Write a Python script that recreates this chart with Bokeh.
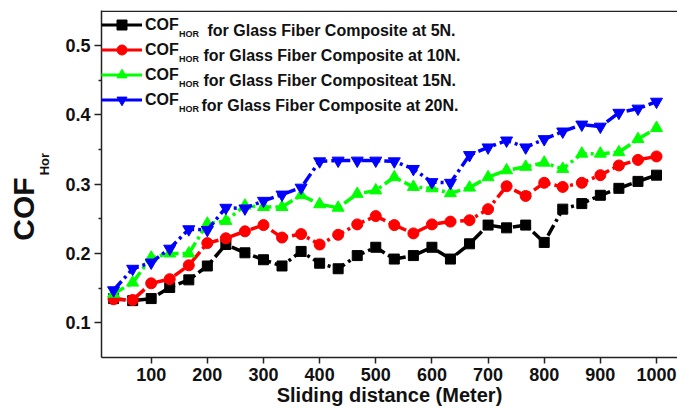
from bokeh.plotting import figure
from bokeh.models import Range1d, FixedTicker, LinearAxis, Label, Legend, LegendItem, Span
from bokeh.embed import file_html
from bokeh.resources import INLINE

# ---- data ----
distance = [33, 67, 100, 133, 167, 200, 233, 267, 300, 333, 367, 400, 433, 467, 500,
            533, 567, 600, 633, 667, 700, 733, 767, 800, 833, 867, 900, 933, 967, 1000]
cof_5N = [0.135, 0.132, 0.135, 0.151, 0.162, 0.182, 0.213, 0.201, 0.191, 0.182, 0.203, 0.186,
          0.178, 0.197, 0.209, 0.192, 0.197, 0.209, 0.192, 0.214, 0.241, 0.237, 0.241, 0.216,
          0.264, 0.272, 0.284, 0.294, 0.304, 0.313]
cof_10N = [0.134, 0.133, 0.157, 0.163, 0.183, 0.215, 0.222, 0.232, 0.241, 0.223, 0.228, 0.213,
           0.227, 0.242, 0.254, 0.241, 0.229, 0.242, 0.246, 0.248, 0.264, 0.297, 0.283, 0.302,
           0.296, 0.302, 0.313, 0.327, 0.335, 0.340]
cof_15N = [0.142, 0.158, 0.194, 0.200, 0.200, 0.243, 0.247, 0.269, 0.267, 0.267, 0.284, 0.271,
           0.266, 0.286, 0.291, 0.310, 0.296, 0.294, 0.287, 0.295, 0.310, 0.320, 0.325, 0.331,
           0.322, 0.344, 0.344, 0.346, 0.365, 0.381]
cof_20N = [0.147, 0.178, 0.187, 0.207, 0.235, 0.234, 0.266, 0.265, 0.276, 0.285, 0.295, 0.333,
           0.334, 0.334, 0.334, 0.333, 0.322, 0.303, 0.302, 0.342, 0.353, 0.363, 0.353, 0.365,
           0.376, 0.386, 0.383, 0.403, 0.409, 0.419]

x_ticks = [100, 200, 300, 400, 500, 600, 700, 800, 900, 1000]
y_ticks = [0.1, 0.2, 0.3, 0.4, 0.5]
y_minor_ticks = [0.15, 0.25, 0.35, 0.45]

series_names = ["COF", "COF", "COF", "COF"]
series_subs = ["HOR", "HOR", "HOR", "HOR"]
series_rest = ["for Glass Fiber Composite at 5N.",
               "for Glass Fiber Composite at 10N.",
               "for Glass Fiber Compositeat 15N.",
               "for Glass Fiber Composite at 20N."]
series_values = [cof_5N, cof_10N, cof_15N, cof_20N]
colors = ["#000000", "#ff0000", "#00ff00", "#0000ff"]
markers = ["square", "circle", "triangle", "inverted_triangle"]
marker_sizes = [10, 11, 12, 12]

x_title = "Sliding distance (Meter)"
y_title = "COF"
y_title_sub = "Hor"

FONT = "Liberation Sans"
INK = "#111111"
AXIS = "#222222"
NBSP = "\u00a0"
Y0, Y1 = 0.05, 0.5505

p = figure(width=677, height=410, output_backend="svg", toolbar_location=None,
           x_range=Range1d(11.5, 1037.4), y_range=Range1d(Y0, Y1),
           min_border_left=101, min_border_right=0, min_border_top=10, min_border_bottom=53,
           background_fill_color="white", border_fill_color="white")
p.outline_line_color = None
p.grid.visible = False

# bottom axis
xa = p.xaxis[0]
xa.ticker = FixedTicker(ticks=x_ticks, minor_ticks=[])
xa.major_tick_out = 6
xa.major_tick_in = 0
xa.minor_tick_line_color = None
xa.major_label_standoff = 4
xa.axis_line_width = 1.5
xa.axis_line_color = AXIS
xa.major_tick_line_width = 1.5
xa.major_tick_line_color = AXIS
xa.major_label_text_font = FONT
xa.major_label_text_font_style = "bold"
xa.major_label_text_font_size = "18px"
xa.major_label_text_color = INK
xa.axis_label = x_title
xa.axis_label_standoff = 0
xa.axis_label_text_font = FONT
xa.axis_label_text_font_style = "bold"
xa.axis_label_text_font_size = "20px"
xa.axis_label_text_color = INK

# left axis; its label carries the subscript part of the y title
ya = p.yaxis[0]
ya.ticker = FixedTicker(ticks=y_ticks, minor_ticks=y_minor_ticks)
ya.major_tick_out = 7
ya.major_tick_in = 0
ya.minor_tick_out = 3
ya.minor_tick_in = 0
ya.major_label_standoff = 4
ya.axis_line_width = 1.5
ya.axis_line_color = AXIS
ya.major_tick_line_width = 1.5
ya.major_tick_line_color = AXIS
ya.minor_tick_line_width = 1.5
ya.minor_tick_line_color = AXIS
ya.major_label_text_font = FONT
ya.major_label_text_font_style = "bold"
ya.major_label_text_font_size = "18px"
ya.major_label_text_color = INK
ya.axis_label = NBSP * 11 + y_title_sub
ya.axis_label_standoff = 10
ya.axis_label_text_font = FONT
ya.axis_label_text_font_style = "bold"
ya.axis_label_text_font_size = "13px"
ya.axis_label_text_color = INK

# main y title, carried by a bare outer axis (vertical text)
cof_axis = LinearAxis(ticker=FixedTicker(ticks=[], minor_ticks=[]),
                      axis_line_color=None, major_tick_line_color=None,
                      minor_tick_line_color=None,
                      major_tick_in=0, major_tick_out=0, major_label_standoff=0,
                      axis_label=y_title + NBSP * 6, axis_label_standoff=-5,
                      axis_label_text_font=FONT, axis_label_text_font_style="bold",
                      axis_label_text_font_size="30px", axis_label_text_color=INK)
p.add_layout(cof_axis, "left")

# top frame line
p.add_layout(Span(location=Y1 - 0.0012, dimension="width", line_color=AXIS, line_width=1.5))

# series
nan = float("nan")
items = []
for name, vals, col, mk, ms in zip(series_names, series_values, colors, markers, marker_sizes):
    p.line(distance, vals, line_color=col, line_width=3.5, line_dash="12 4 3 4")
    p.scatter(distance, vals, marker=mk, size=ms, fill_color=col, line_color=col)
    lg_line = p.line(x=[nan], y=[nan], line_color=col, line_width=3)
    lg_mark = p.scatter(x=[nan], y=[nan], marker=mk, size=ms, fill_color=col, line_color=col)
    items.append(LegendItem(label=name, renderers=[lg_line, lg_mark]))

FRAME_H = 347
ROW_H = 25
LEG_TOP = 2  # legend top, pixels below the frame top
legend = Legend(items=items, location=(0, FRAME_H - 4 * ROW_H - LEG_TOP),
                margin=0, padding=0, spacing=0,
                glyph_width=41, glyph_height=ROW_H, label_height=ROW_H,
                label_standoff=3, label_text_font=FONT, label_text_font_style="bold",
                label_text_font_size="16px", label_text_color=INK,
                border_line_color=None, background_fill_alpha=0)
p.add_layout(legend)

# rest of the legend texts (screen coordinates relative to the frame's bottom-left)
sub_x = [77.5, 77.5, 77.5, 77.5]
rest_x = [106, 102, 102, 100]
for i in range(4):
    base = FRAME_H - (LEG_TOP + ROW_H * i + ROW_H / 2 + 5)
    p.add_layout(Label(x=sub_x[i], y=base - 3.5, x_units="screen", y_units="screen",
                       text=series_subs[i], text_font=FONT, text_font_style="bold",
                       text_font_size="9px", text_color=INK, text_baseline="alphabetic"))
    p.add_layout(Label(x=rest_x[i], y=base, x_units="screen", y_units="screen",
                       text=series_rest[i], text_font=FONT, text_font_style="bold",
                       text_font_size="16px", text_color=INK, text_baseline="alphabetic"))

open("out.html", "w").write(file_html(p, INLINE))
